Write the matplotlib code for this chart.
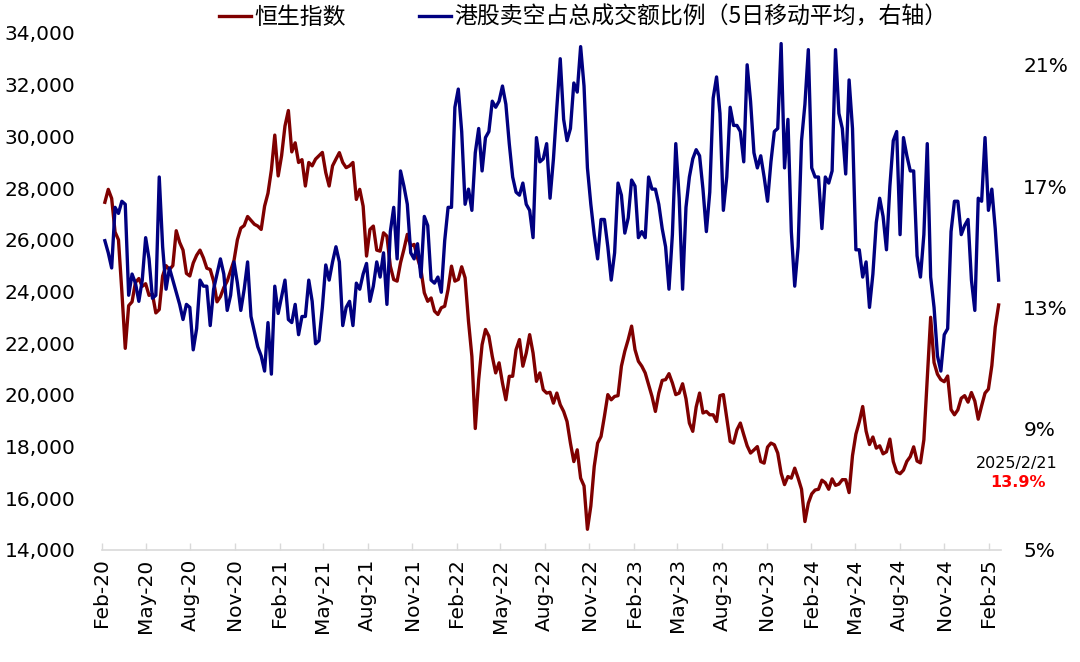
import pandas as pd
import matplotlib
matplotlib.use('Agg')
import matplotlib.pyplot as plt

# weekly readings (Fridays), 2020-02-07 .. 2025-02-21
dates = pd.date_range(end='2025-02-21', periods=264, freq='7D')

# Hang Seng index
hsi = [
    27450, 27950, 27600, 26300, 26000, 24000, 21800, 23450, 23600, 24350,
    24500, 24200, 24300, 23850, 23900, 23170, 23300, 24600, 25000, 24850,
    25000, 26350, 25900, 25600, 24700, 24600, 25100, 25400, 25600, 25300,
    24900, 24850, 24400, 23600, 23800, 24150, 24400, 24800, 25200, 26000,
    26450, 26550, 26900, 26750, 26600, 26530, 26400, 27300, 27800, 28700,
    30050,
    28470, 29250, 30400, 31000, 29400, 29750, 28990, 29100, 28080, 28990,
    28860, 29120, 29250, 29380, 28600, 28080, 28860, 29120, 29370, 28990,
    28790, 28860, 28990, 27560, 27950, 27300, 25370, 26400, 26530, 25600,
    25560, 26270, 26140, 24980, 24460, 24400, 25110, 25630, 26210, 25760,
    25820, 25300, 24850, 23950, 23620, 23750, 23240, 23110, 23370, 23430,
    24080, 24980, 24400,
    24465, 24955, 24530, 22850, 21490, 18700, 20590, 21940, 22530, 22270,
    21490, 20850, 21240, 20460, 19810, 20720, 20720, 21750, 22140, 21110,
    21620, 22330, 21620, 20525, 20850, 20200, 20070, 20100, 19680, 20070,
    19620, 19360, 18970, 18135, 17420, 17875, 16780, 16480, 14800, 15700,
    17230, 18135, 18390, 19170, 20010, 19810, 19940, 19970, 21110, 21690,
    22140, 22660, 21750,
    21300, 21110, 20850, 20400, 19940, 19360, 20070, 20560, 20590, 20820,
    20460, 20010, 20070, 20430, 19850, 18910, 18590, 19530, 20070, 19300,
    19360, 19230, 19230, 18970, 19970, 20010, 19100, 18200, 18135, 18650,
    18910, 18460, 18030, 17750, 17870, 18000, 17420, 17360, 17980, 18135,
    18070, 17750, 16970, 16530, 16840, 16780, 17165, 16780, 16350, 15100,
    15810, 16170, 16320,
    16350, 16700, 16600, 16350, 16750, 16500, 16550, 16720, 16720, 16220,
    17650, 18480, 18960, 19550, 18600, 18080, 18370, 17940, 18030, 17720,
    17800, 18290, 17420, 17020, 16950, 17090, 17430, 17610, 17990, 17440,
    17370, 18260, 20630, 23000, 21250, 20800, 20590, 20510, 20730, 19430,
    19230, 19420, 19870, 19970, 19720, 20090, 19760, 19060, 19580, 20070,
    20225, 21130, 22620, 23478,
]

# short selling share of turnover, 5d MA, %
short_ratio = [
    15.2, 14.8, 14.3, 16.3, 16.1, 16.5, 16.4, 13.4, 14.1, 13.8,
    13.2, 13.9, 15.3, 14.6, 13.3, 13.4, 17.3, 15.0, 13.6, 14.3,
    13.9, 13.5, 13.1, 12.6, 13.1, 13.0, 11.6, 12.3, 13.9, 13.7,
    13.7, 12.4, 13.6, 14.1, 14.6, 14.1, 12.9, 13.4, 14.5, 13.8,
    12.9, 13.6, 14.5, 12.7, 12.2, 11.7, 11.4, 10.9, 12.5, 10.8,
    13.7,
    12.8, 13.35, 13.9, 12.6, 12.5, 13.1, 12.1, 12.7, 12.7, 13.9,
    13.2, 11.8, 11.9, 13.0, 14.4, 13.9, 14.5, 15.0, 14.5, 12.4,
    13.0, 13.2, 12.4, 13.8, 13.6, 14.1, 14.45, 13.2, 13.7, 14.5,
    14.0, 14.8, 13.1, 15.5, 16.3, 14.6, 17.5, 17.0, 16.4, 14.8,
    14.6, 15.1, 14.0, 16.0, 15.7, 13.9, 13.8, 14.0, 13.5, 15.2,
    16.3, 16.3, 19.6,
    20.2, 18.8, 16.4, 16.9, 16.2, 18.1, 18.9, 17.5, 18.6, 18.8,
    19.8, 19.6, 19.8, 20.3, 19.7, 18.4, 17.3, 16.8, 16.7, 17.1,
    16.4, 16.2, 15.3, 18.6, 17.8, 17.9, 18.4, 16.6, 17.9, 19.6,
    21.2, 19.2, 18.5, 18.9, 20.4, 20.1, 21.6, 20.3, 17.6, 16.4,
    15.4, 14.6, 15.9, 15.9, 15.0, 13.9, 14.8, 17.1, 16.7, 15.45,
    15.95, 17.2, 17.0,
    15.3, 15.5, 15.3, 17.3, 16.9, 16.9, 16.4, 15.6, 15.0, 13.6,
    15.4, 18.4, 16.6, 13.6, 16.3, 17.3, 17.9, 18.2, 18.0, 16.9,
    15.5, 16.8, 19.9, 20.6, 19.4, 16.2, 17.3, 19.6, 19.0, 19.0,
    18.8, 17.8, 21.0, 19.8, 18.1, 17.6, 18.0, 17.3, 16.5, 17.8,
    18.8, 18.9, 21.7, 17.6, 19.2, 15.5, 13.7, 15.0, 18.5, 19.7,
    21.5, 17.6, 17.3,
    17.3, 15.6, 17.3, 17.1, 17.5, 21.5, 19.4, 18.9, 17.4, 20.5,
    18.9, 14.9, 14.9, 14.0, 14.5, 13.0, 14.1, 15.8, 16.6, 16.0,
    14.9, 17.0, 18.5, 18.8, 15.4, 18.6, 18.0, 17.5, 17.5, 14.7,
    14.0, 15.4, 18.4, 14.0, 13.0, 11.4, 10.9, 12.1, 12.3, 15.5,
    16.5, 16.5, 15.4, 15.7, 15.9, 13.9, 12.9, 16.6, 16.5, 18.6,
    16.2, 16.9, 15.6, 13.9,
]

tick_dates = pd.date_range('2020-02-01', '2025-02-01', freq='3MS')
left_ticks = list(range(14000, 34001, 2000))
right_ticks = [5, 9, 13, 17, 21]
legend_labels = ['恒生指数', '港股卖空占总成交额比例（5日移动平均，右轴）']
last_date = '2025/2/21'
last_value = '13.9%'

red = '#7F0000'
blue = '#000080'
grey = '#D9D9D9'

plt.rcParams['font.family'] = ['DejaVu Sans', 'Noto Sans CJK SC']

fig = plt.figure(figsize=(10.8, 6.62), dpi=100)
ax = fig.add_axes([0.0944, 0.1692, 0.8325, 0.781])
ax2 = ax.twinx()

l1, = ax.plot(dates, hsi, color=red, lw=2.4)
l2, = ax2.plot(dates, short_ratio, color=blue, lw=2.4)

for a in (ax, ax2):
    for s in ['top', 'left', 'right']:
        a.spines[s].set_visible(False)
ax2.spines['bottom'].set_visible(False)
ax.spines['bottom'].set_color(grey)
ax.spines['bottom'].set_linewidth(1.2)

ax.set_xlim(pd.Timestamp('2020-02-01'), pd.Timestamp('2025-02-26'))
ax.set_xticks(tick_dates)
ax.set_xticklabels([d.strftime('%b-%y') for d in tick_dates], rotation=90)
ax.tick_params(axis='x', direction='in', length=5, width=1, color=grey,
               pad=6, labelsize=14.5)

ax.set_ylim(14000, 34000)
ax.set_yticks(left_ticks)
ax.set_yticklabels([f'{v:,}' for v in left_ticks])
ax.tick_params(axis='y', length=0, pad=19, labelsize=14.5)

ax2.set_ylim(5, 22.05)
ax2.set_yticks(right_ticks)
ax2.set_yticklabels([f'{v}%' for v in right_ticks])
ax2.tick_params(axis='y', length=0, pad=16, labelsize=14.5)

fig.legend([l1, l2], legend_labels, loc='center', bbox_to_anchor=(0.54, 0.974),
           ncol=2, frameon=False, handlelength=1.4, handletextpad=0.15,
           columnspacing=3.2, borderaxespad=0,
           prop={'family': ['Noto Sans CJK SC', 'DejaVu Sans'], 'size': 16.5})

fig.text(0.9417, 0.3006, last_date, ha='center', va='center', fontsize=11.5,
         color='black')
fig.text(0.9421, 0.2719, last_value, ha='center', va='center', fontsize=11.5,
         color='red', fontweight='bold')

fig.savefig('out.png', dpi=100)
